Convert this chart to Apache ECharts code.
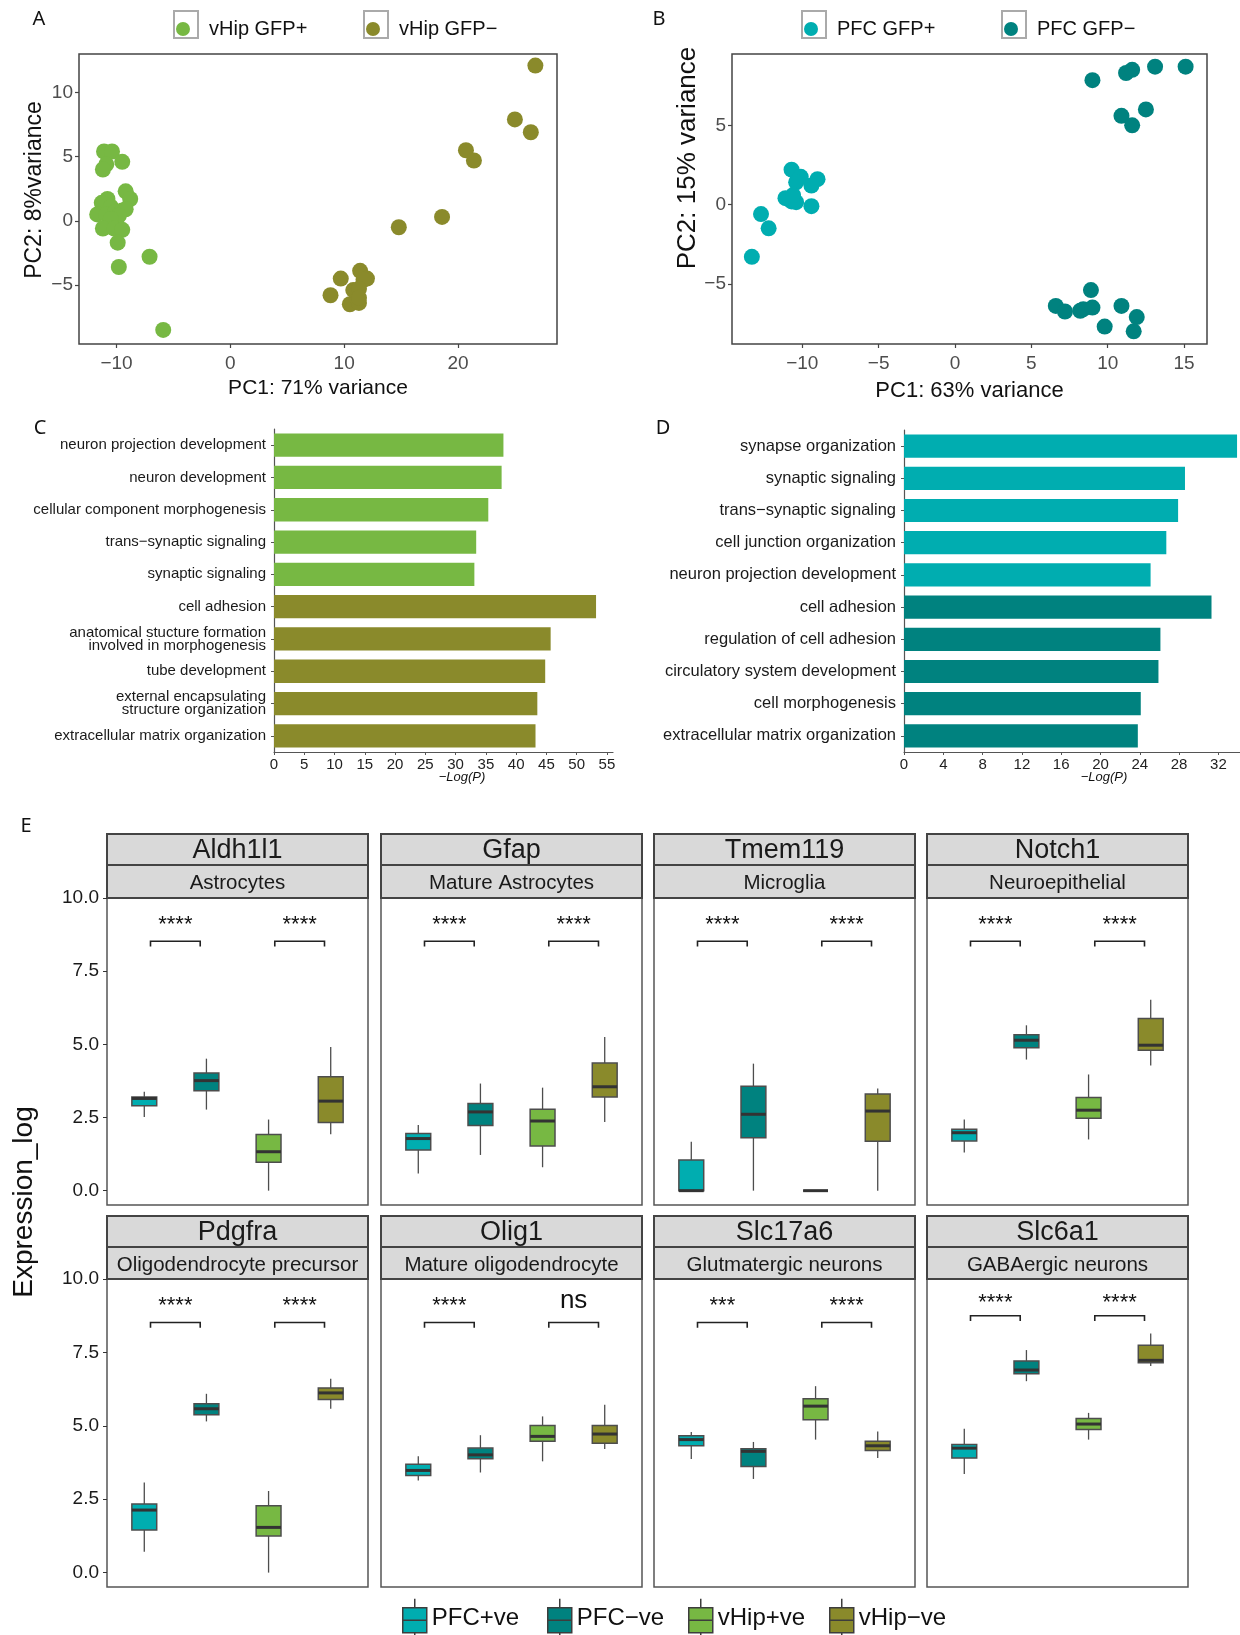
<!DOCTYPE html>
<html>
<head>
<meta charset="utf-8">
<script src="https://cdn.jsdelivr.net/npm/echarts@6/dist/echarts.min.js"></script>
<style>html,body{margin:0;padding:0;background:#fff}#main{width:1240px;height:1635px}</style>
</head>
<body>
<div id="main"></div>
<script>
// colours of the four groups
const cVhipPos = '#77b843', cVhipNeg = '#8a8a2b', cPfcPos = '#00adb0', cPfcNeg = '#00827f';
const fontMain = '"Liberation Sans", Arial, sans-serif';
const fontNarrow = '"Liberation Sans Narrow", "Arial Narrow", "Liberation Sans", sans-serif';

// A: PCA vHip  [PC1, PC2]
const vhipGfpPos = [[-11.1,5.4],[-10.4,5.4],[-10.9,4.4],[-11.2,4.0],[-9.5,4.6],[-9.2,2.3],[-8.8,1.7],[-10.8,1.7],
  [-11.3,1.4],[-10.5,1.1],[-11.7,0.5],[-10.9,0.5],[-10.1,0.7],[-9.5,0.8],[-9.2,0.9],[-9.8,0.4],[-10.5,0.15],
  [-11.2,-0.6],[-10.2,-0.6],[-9.5,-0.7],[-9.9,-1.7],[-7.1,-2.8],[-9.8,-3.6],[-5.9,-8.5]];
const vhipGfpNeg = [[26.8,12.1],[25.0,7.9],[26.4,6.9],[20.7,5.5],[21.4,4.7],[18.6,0.3],[14.8,-0.5],[9.7,-4.5],
  [11.4,-3.9],[12.0,-4.5],[11.7,-4.6],[8.8,-5.8],[10.8,-5.4],[11.3,-5.3],[10.5,-6.5],[11.3,-6.4],[11.3,-6.0]];

// B: PCA PFC
const pfcGfpPos = [[-10.7,2.2],[-10.3,1.6],[-10.1,1.75],[-10.4,1.4],[-9.0,1.6],[-9.4,1.2],[-11.1,0.4],[-10.7,0.2],
  [-10.4,0.15],[-10.6,0.6],[-9.4,-0.1],[-12.7,-0.6],[-12.2,-1.5],[-13.3,-3.3]];
const pfcGfpNeg = [[9.0,7.85],[11.2,8.3],[11.6,8.5],[13.1,8.7],[15.1,8.7],[10.9,5.6],[12.5,6.0],[11.6,5.0],
  [8.9,-5.4],[6.6,-6.4],[7.2,-6.75],[8.2,-6.7],[8.4,-6.6],[9.0,-6.5],[10.9,-6.4],[11.9,-7.1],[9.8,-7.7],[11.7,-8.0]];

// C: GO terms vHip (first five GFP+, last five GFP-)
const termsC = ['neuron projection development','neuron development','cellular component morphogenesis',
  'trans\u2212synaptic signaling','synaptic signaling','cell adhesion',
  'anatomical stucture formation\ninvolved in morphogenesis','tube development',
  'external encapsulating\nstructure organization','extracellular matrix organization'];
const logPC = [37.9,37.6,35.4,33.4,33.1,53.2,45.7,44.8,43.5,43.2];
const ticksC = [0,5,10,15,20,25,30,35,40,45,50,55];

// D: GO terms PFC
const termsD = ['synapse organization','synaptic signaling','trans\u2212synaptic signaling','cell junction organization',
  'neuron projection development','cell adhesion','regulation of cell adhesion','circulatory system development',
  'cell morphogenesis','extracellular matrix organization'];
const logPD = [33.9,28.6,27.9,26.7,25.1,31.3,26.1,25.9,24.1,23.8];
const ticksD = [0,4,8,12,16,20,24,28,32];

// E: expression boxplots, [min, Q1, median, Q3, max] per group
const groupsE = ['PFC+ve','PFC\u2212ve','vHip+ve','vHip\u2212ve'];
const genesE = ['Aldh1l1','Gfap','Tmem119','Notch1','Pdgfra','Olig1','Slc17a6','Slc6a1'];
const cellTypesE = ['Astrocytes','Mature Astrocytes','Microglia','Neuroepithelial',
  'Oligodendrocyte precursor','Mature oligodendrocyte','Glutmatergic neurons','GABAergic neurons'];
const boxAldh1l1 = [[2.52,2.90,3.15,3.20,3.38],[2.77,3.41,3.76,4.02,4.51],[0.0,0.97,1.33,1.92,2.43],[1.93,2.33,3.06,3.89,4.91]];
const boxGfap    = [[0.59,1.39,1.78,1.95,2.24],[1.22,2.23,2.69,2.98,3.66],[0.80,1.53,2.38,2.78,3.52],[2.35,3.20,3.55,4.36,5.25]];
const boxTmem119 = [[0,0,0,1.05,1.67],[0,1.81,2.61,3.57,4.34],[0,0,0,0,0],[0,1.69,2.72,3.30,3.49]];
const boxNotch1  = [[1.30,1.70,1.98,2.10,2.43],[4.48,4.88,5.14,5.33,5.65],[1.75,2.47,2.75,3.18,3.97],[4.28,4.80,4.97,5.88,6.52]];
const boxPdgfra  = [[0.71,1.45,2.13,2.34,3.07],[5.15,5.38,5.58,5.75,6.09],[0,1.25,1.54,2.28,2.78],[5.58,5.90,6.12,6.29,6.60]];
const boxOlig1   = [[3.14,3.31,3.48,3.69,3.96],[3.41,3.88,4.01,4.24,4.68],[3.79,4.47,4.64,5.01,5.32],[4.21,4.41,4.72,5.01,5.72]];
const boxSlc17a6 = [[3.87,4.32,4.53,4.66,4.79],[3.19,3.61,4.13,4.22,4.45],[4.53,5.21,5.67,5.92,6.35],[3.90,4.16,4.32,4.47,4.81]];
const boxSlc6a1  = [[3.36,3.90,4.24,4.36,4.90],[6.52,6.77,6.90,7.21,7.58],[4.53,4.87,5.06,5.25,5.44],[7.04,7.15,7.23,7.74,8.14]];
const boxesE = [boxAldh1l1,boxGfap,boxTmem119,boxNotch1,boxPdgfra,boxOlig1,boxSlc17a6,boxSlc6a1];
const sigE = [['****','****'],['****','****'],['****','****'],['****','****'],
  ['****','****'],['****','ns'],['***','****'],['****','****']];
const bracketE = [8.52,8.52,8.52,8.52,8.52,8.52,8.52,8.75];
const sigHeightE = [9.17,9.17,9.17,9.17,9.2,9.17,9.2,9.3];
const ticksE = [0,2.5,5,7.5,10];

const groupColors = [cPfcPos, cPfcNeg, cVhipPos, cVhipNeg];
const minus = v => (v < 0 ? '\u2212' + Math.abs(v) : String(v));

const grid = [], xAxis = [], yAxis = [], series = [], graphic = [], legend = [];

function pcaAxis(gridIndex, min, max, ticks, margin) {
  return {
    type: 'value', gridIndex, min, max,
    splitLine: {show: false}, axisLine: {show: false, onZero: false},
    axisTick: {show: true, customValues: ticks, length: 4, lineStyle: {color: '#444', width: 1.2}},
    axisLabel: {customValues: ticks, fontSize: 19, color: '#4d4d4d', fontFamily: fontMain, margin, formatter: minus}
  };
}
function text(x, y, str, size, opts) {
  return Object.assign({
    type: 'text', x, y,
    style: Object.assign({text: str, fontSize: size, fontFamily: fontMain, fill: '#111',
      align: 'center', verticalAlign: 'middle', textAlign: 'center', textVerticalAlign: 'middle'}, opts && opts.style)
  }, opts && opts.el);
}
// ggplot-like legend key: grey square with a dot, text to the right
function keyLegend(name, cx) {
  legend.push({data: [{name, icon: 'circle'}], left: cx - 15, top: 14, itemWidth: 30, itemHeight: 14, selectedMode: false,
    textStyle: {fontSize: 20, color: '#111', fontFamily: fontMain, padding: [0, 0, 0, 6]}});
  graphic.push({type: 'rect', shape: {x: cx - 12, y: 11, width: 24, height: 27},
    style: {fill: '#fff', stroke: '#aaa', lineWidth: 2}, z: -1});
}

// ---- A ----
grid.push({left: 79, top: 54, width: 478, height: 290, show: true, borderColor: '#444', borderWidth: 1.5});
xAxis.push(Object.assign(pcaAxis(0, -13.3, 28.7, [-10,0,10,20], 10),
  {name: 'PC1: 71% variance', nameLocation: 'middle', nameGap: 34, nameTextStyle: {fontSize: 21, color: '#111', fontFamily: fontMain}}));
yAxis.push(pcaAxis(0, -9.6, 13.0, [-5,0,5,10], 6));
series.push({type: 'scatter', name: 'vHip GFP+', xAxisIndex: 0, yAxisIndex: 0, data: vhipGfpPos, symbolSize: 16, itemStyle: {color: cVhipPos, opacity: 1}});
series.push({type: 'scatter', name: 'vHip GFP\u2212', xAxisIndex: 0, yAxisIndex: 0, data: vhipGfpNeg, symbolSize: 16, itemStyle: {color: cVhipNeg, opacity: 1}});
keyLegend('vHip GFP+', 186);
keyLegend('vHip GFP\u2212', 376);
graphic.push(text(35, 190, 'PC2: 8%variance', 23, {el: {rotation: Math.PI / 2}}));

// ---- B ----
grid.push({left: 732, top: 54, width: 475, height: 290, show: true, borderColor: '#444', borderWidth: 1.5});
xAxis.push(Object.assign(pcaAxis(1, -14.6, 16.5, [-10,-5,0,5,10,15], 10),
  {name: 'PC1: 63% variance', nameLocation: 'middle', nameGap: 36, nameTextStyle: {fontSize: 22, color: '#111', fontFamily: fontMain}}));
yAxis.push(pcaAxis(1, -8.8, 9.5, [-5,0,5], 6));
series.push({type: 'scatter', name: 'PFC GFP+', xAxisIndex: 1, yAxisIndex: 1, data: pfcGfpPos, symbolSize: 16, itemStyle: {color: cPfcPos, opacity: 1}});
series.push({type: 'scatter', name: 'PFC GFP\u2212', xAxisIndex: 1, yAxisIndex: 1, data: pfcGfpNeg, symbolSize: 16, itemStyle: {color: cPfcNeg, opacity: 1}});
keyLegend('PFC GFP+', 814);
keyLegend('PFC GFP\u2212', 1014);
graphic.push(text(688, 158, 'PC2: 15% variance', 26, {el: {rotation: Math.PI / 2}}));

// ---- C / D bar charts ----
function goBars(gridIndex, terms, vals, max, ticks, c1, c2, font, size, tickSize) {
  xAxis.push({type: 'value', gridIndex, min: 0, max, splitLine: {show: false},
    axisLine: {show: true, lineStyle: {color: '#555', width: 1.2}},
    axisTick: {show: true, customValues: ticks, length: 3, lineStyle: {color: '#555'}},
    axisLabel: {customValues: ticks, fontSize: tickSize, color: '#222', fontFamily: font, margin: 5}});
  yAxis.push({type: 'category', gridIndex, data: terms, inverse: true,
    axisLine: {show: true, lineStyle: {color: '#555', width: 1.2}},
    axisTick: {show: true, length: 3, alignWithLabel: true, lineStyle: {color: '#555'}},
    axisLabel: {fontSize: size, lineHeight: 13, color: '#1a1a1a', fontFamily: font, margin: 8}});
  series.push({type: 'bar', xAxisIndex: gridIndex, yAxisIndex: gridIndex, barWidth: '72%',
    data: vals.map((v, i) => ({value: v, itemStyle: {color: i < 5 ? c1 : c2}}))});
}
grid.push({left: 274, top: 429, width: 339, height: 323});
goBars(2, termsC, logPC, 56, ticksC, cVhipPos, cVhipNeg, fontNarrow, 15, 15);
grid.push({left: 904, top: 430, width: 336, height: 322});
goBars(3, termsD, logPD, 34.2, ticksD, cPfcPos, cPfcNeg, fontMain, 16.5, 15);
graphic.push(text(462, 777, '\u2212Log(P)', 13, {style: {fontStyle: 'italic', fontFamily: fontNarrow}}));
graphic.push(text(1104, 777, '\u2212Log(P)', 13, {style: {fontStyle: 'italic'}}));

// ---- E boxplots ----
function renderBox(params, api) {
  const x = api.value(0);
  const lo = api.coord([x, api.value(1)]), q1 = api.coord([x, api.value(2)]), md = api.coord([x, api.value(3)]);
  const q3 = api.coord([x, api.value(4)]), hi = api.coord([x, api.value(5)]);
  const w = api.size([0.4, 0])[0], cx = lo[0];
  const stroke = '#4d4d4d';
  return {type: 'group', children: [
    {type: 'line', shape: {x1: cx, y1: hi[1], x2: cx, y2: q3[1]}, style: {stroke, lineWidth: 1.3}},
    {type: 'line', shape: {x1: cx, y1: q1[1], x2: cx, y2: lo[1]}, style: {stroke, lineWidth: 1.3}},
    {type: 'rect', shape: {x: cx - w / 2, y: q3[1], width: w, height: Math.max(q1[1] - q3[1], 0)},
      style: {fill: groupColors[api.value(6)], stroke, lineWidth: 1.5}},
    {type: 'line', shape: {x1: cx - w / 2, y1: md[1], x2: cx + w / 2, y2: md[1]}, style: {stroke: '#333', lineWidth: 3}}
  ]};
}
function makeSig(labels) {
  return function (params, api) {
    const x1 = api.value(0), x2 = api.value(1), yTop = api.value(2), yLeg = api.value(3), yTxt = api.value(4);
    const a = api.coord([x1, yLeg]), b = api.coord([x1, yTop]), c = api.coord([x2, yTop]), d = api.coord([x2, yLeg]);
    const t = api.coord([(x1 + x2) / 2, yTxt]);
    const lab = labels[params.dataIndex];
    const isNs = lab === 'ns';
    return {type: 'group', children: [
      {type: 'polyline', shape: {points: [a, b, c, d]}, style: {stroke: '#222', lineWidth: 1.6, fill: null}},
      {type: 'text', x: t[0], y: t[1] + (isNs ? -3 : 3),
        style: {text: lab, fontSize: isNs ? 26 : 22, fontFamily: fontMain, fill: '#111',
          align: 'center', verticalAlign: 'middle', textAlign: 'center', textVerticalAlign: 'middle'}}
    ]};
  };
}
const colLeft = [107, 381, 654, 927], colW = 261;
const rowTop = [898, 1279], rowH = [307, 308], stripTop = [834, 1216];
boxesE.forEach((boxes, p) => {
  const r = Math.floor(p / 4), c = p % 4, gi = 4 + p;
  grid.push({left: colLeft[c], top: rowTop[r], width: colW, height: rowH[r], show: true, borderColor: '#555', borderWidth: 1.5});
  xAxis.push({type: 'value', gridIndex: gi, min: 0.4, max: 4.6, show: false});
  yAxis.push({type: 'value', gridIndex: gi, min: -0.49, max: 10, splitLine: {show: false}, axisLine: {show: false, onZero: false},
    axisTick: {show: c === 0, customValues: ticksE, length: 4, lineStyle: {color: '#333'}},
    axisLabel: {show: c === 0, customValues: ticksE, fontSize: 19, color: '#1a1a1a', fontFamily: fontMain, margin: 8,
      formatter: v => v.toFixed(1)}});
  series.push({type: 'custom', xAxisIndex: gi, yAxisIndex: gi, renderItem: renderBox, silent: true,
    encode: {x: 0, y: [1, 2, 3, 4, 5]}, data: boxes.map((b, i) => [i + 1].concat(b, [i]))});
  const inset = 0.1, top = bracketE[p], leg = top - 0.18;
  series.push({type: 'custom', xAxisIndex: gi, yAxisIndex: gi, renderItem: makeSig(sigE[p]), silent: true,
    encode: {x: [0, 1], y: [2, 3, 4]},
    data: [[1 + inset, 2 - inset, top, leg, sigHeightE[p]], [3 + inset, 4 - inset, top, leg, sigHeightE[p]]]});
  // facet strips
  graphic.push({type: 'rect', shape: {x: colLeft[c], y: stripTop[r], width: colW, height: 31},
    style: {fill: '#d9d9d9', stroke: '#444', lineWidth: 2}});
  graphic.push({type: 'rect', shape: {x: colLeft[c], y: stripTop[r] + 31, width: colW, height: rowTop[r] - stripTop[r] - 31},
    style: {fill: '#d9d9d9', stroke: '#444', lineWidth: 2}});
  graphic.push(text(colLeft[c] + colW / 2, stripTop[r] + 17, genesE[p], 27, {style: {fill: '#1a1a1a'}}));
  graphic.push(text(colLeft[c] + colW / 2, stripTop[r] + 49, cellTypesE[p], 20.5, {style: {fill: '#1a1a1a'}}));
});
graphic.push(text(24, 1202, 'Expression_log', 28, {el: {rotation: Math.PI / 2}}));

// legend for E (empty series carry the colours)
const boxIcon = 'path://M0,9L24,9L24,34L0,34Z M0,21.5L24,21.5 M12,0L12,9 M12,34L12,40';
const legLeft = [397, 542, 683, 824];
groupsE.forEach((g, i) => {
  series.push({type: 'scatter', name: g, xAxisIndex: 0, yAxisIndex: 0, data: [], itemStyle: {color: groupColors[i], opacity: 1}});
  legend.push({data: [{name: g, icon: boxIcon}], left: legLeft[i], top: 1593, itemWidth: 24, itemHeight: 40,
    selectedMode: false, itemGap: 0, itemStyle: {borderColor: '#3d3d3d', borderWidth: 1.5, opacity: 1},
    textStyle: {fontSize: 24, color: '#111', fontFamily: fontMain, padding: [12, 0, 0, 0]}});
});

// panel letters
[['A', 39, 19], ['B', 659, 19], ['C', 40, 428], ['D', 663, 428], ['E', 26, 826]].forEach(l =>
  graphic.push(text(l[1], l[2], l[0], 20, {style: {fontFamily: '"Noto Sans", sans-serif'}})));

const chart = echarts.init(document.getElementById('main'));
chart.setOption({animation: false, grid, xAxis, yAxis, series, legend, graphic});
</script>
</body>
</html>
